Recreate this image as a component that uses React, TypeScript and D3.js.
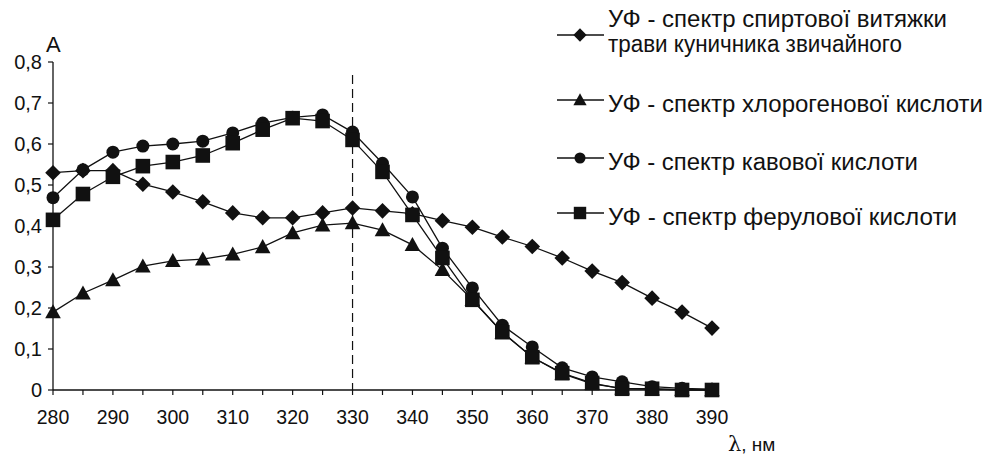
import React from "react";
import * as d3 from "d3";

const wavelengths = [280,285,290,295,300,305,310,315,320,325,330,335,340,345,350,355,360,365,370,375,380,385,390];
const extractValues = [0.53,0.535,0.535,0.502,0.483,0.459,0.432,0.42,0.42,0.432,0.444,0.437,0.43,0.413,0.397,0.373,0.35,0.322,0.29,0.262,0.224,0.19,0.151];
const chlorogenicValues = [0.19,0.236,0.268,0.302,0.315,0.319,0.331,0.349,0.383,0.402,0.407,0.39,0.354,0.293,0.22,0.14,0.08,0.04,0.015,0.004,0.002,0.001,0.0];
const caffeicValues = [0.469,0.537,0.58,0.595,0.6,0.607,0.627,0.651,0.665,0.671,0.629,0.553,0.471,0.346,0.249,0.158,0.105,0.054,0.032,0.02,0.008,0.004,0.002];
const ferulicValues = [0.415,0.478,0.52,0.546,0.556,0.572,0.602,0.635,0.663,0.656,0.61,0.532,0.427,0.322,0.22,0.141,0.08,0.041,0.017,0.003,0.003,0.0,0.0];
const yTicks = [0,0.1,0.2,0.3,0.4,0.5,0.6,0.7,0.8];
const xTicks = [280,290,300,310,320,330,340,350,360,370,380,390];
const xMinorTicks = [280,285,290,295,300,305,310,315,320,325,330,335,340,345,350,355,360,365,370,375,380,385,390];
const legendLabels = [
  ["УФ - спектр спиртової витяжки", "трави куничника звичайного"],
  ["УФ - спектр хлорогенової кислоти"],
  ["УФ - спектр кавової кислоти"],
  ["УФ - спектр ферулової кислоти"],
];
const markerTypes = ["diamond", "triangle", "circle", "square"];
const seriesList = [extractValues, chlorogenicValues, caffeicValues, ferulicValues];
const peakLine = 330;

const FONT = "Arial, 'Liberation Sans', sans-serif";

function Marker({ type, x, y, s = 1 }: { type: string; x: number; y: number; s?: number }) {
  if (type === "diamond") {
    const r = 7.8 * s;
    return <path d={`M${x},${y - r}L${x + r},${y}L${x},${y + r}L${x - r},${y}Z`} fill="#111" />;
  }
  if (type === "triangle") {
    const r = 7.8 * s;
    return <path d={`M${x},${y - r}L${x + r},${y + r * 0.8}L${x - r},${y + r * 0.8}Z`} fill="#111" />;
  }
  if (type === "circle") {
    return <circle cx={x} cy={y} r={6.5 * s} fill="#111" />;
  }
  const h = 7.3 * s;
  return <rect x={x - h} y={y - h} width={2 * h} height={2 * h} fill="#111" />;
}

export default function App() {
  const width = 986, height = 457;
  const x = d3.scaleLinear().domain([280, 390]).range([53, 712]);
  const y = d3.scaleLinear().domain([0, 0.8]).range([390, 62]);
  const line = d3.line<number>().x((_, i) => x(wavelengths[i])).y((d) => y(d));
  const legendY = [35, 100, 158, 213];
  const legendBase = [[27, 52], [112], [170], [225]];
  const legendLen = [[339, 294], [375], [310], [349]];

  return (
    <svg width={width} height={height} style={{ position: "absolute", left: 0, top: 0, background: "#fff" }} fontFamily={FONT}>
      <rect width={width} height={height} fill="#fff" />
      {/* axes */}
      <line x1={53} x2={53} y1={y(0.8)} y2={y(0)} stroke="#111" strokeWidth={1.3} />
      <line x1={53} x2={x(390)} y1={y(0)} y2={y(0)} stroke="#111" strokeWidth={1.3} />
      {yTicks.map((t) => (
        <g key={t}>
          <line x1={48} x2={53} y1={y(t)} y2={y(t)} stroke="#111" strokeWidth={1.2} />
          <text x={42} y={y(t)} dy="0.36em" textAnchor="end" fontSize={20} fill="#111">
            {String(t).replace(".", ",")}
          </text>
        </g>
      ))}
      {xMinorTicks.map((t) => (
        <line key={t} x1={x(t)} x2={x(t)} y1={y(0)} y2={y(0) + 5} stroke="#111" strokeWidth={1.2} />
      ))}
      {xTicks.map((t) => (
        <text key={t} x={x(t)} y={424} textAnchor="middle" fontSize={19.5} fill="#111">
          {t}
        </text>
      ))}
      <text x={46} y={52} fontSize={22} fill="#111">A</text>
      <text x={728} y={451} fontSize={19} fill="#111">
        <tspan fontFamily="'DejaVu Serif', serif" fontSize={21}>λ</tspan>, нм
      </text>
      {/* dashed line */}
      <line x1={x(peakLine)} x2={x(peakLine)} y1={75} y2={y(0)} stroke="#111" strokeWidth={1.2} strokeDasharray="9,5" />
      {/* series */}
      {seriesList.map((vals, si) => (
        <g key={si}>
          <path d={line(vals) || ""} fill="none" stroke="#111" strokeWidth={1.3} />
          {vals.map((v, i) => (
            <Marker key={i} type={markerTypes[si]} x={x(wavelengths[i])} y={y(v)} />
          ))}
        </g>
      ))}
      {/* legend */}
      {legendLabels.map((lbl, i) => (
        <g key={i}>
          <line x1={557} x2={604} y1={legendY[i]} y2={legendY[i]} stroke="#111" strokeWidth={1.3} />
          <Marker type={markerTypes[i]} x={580} y={legendY[i]} s={0.85} />
          {lbl.map((txt, j) => (
            <text key={j} x={608} y={legendBase[i][j]} fontSize={23} fill="#111"
              textLength={legendLen[i][j]} lengthAdjust="spacingAndGlyphs">
              {txt}
            </text>
          ))}
        </g>
      ))}
    </svg>
  );
}
